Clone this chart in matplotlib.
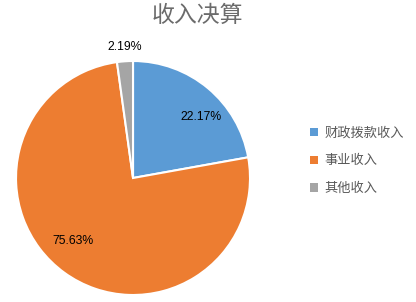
import matplotlib
matplotlib.use("Agg")
import matplotlib.pyplot as plt
from matplotlib.patches import Patch

plt.rcParams['font.family'] = ['Noto Sans CJK SC', 'DejaVu Sans']

categories = ['财政拨款收入', '事业收入', '其他收入']
values = [22.17, 75.63, 2.19]
labels = ['22.17%', '75.63%', '2.19%']
colors = ['#5B9BD5', '#ED7D31', '#A5A5A5']
title = '收入决算'

fig = plt.figure(figsize=(4.16, 3.02), dpi=100)
ax = fig.add_axes([0.0385, 0.0232, 0.5625, 0.7748])
wedges, _ = ax.pie(values, colors=colors, startangle=90, counterclock=False,
                   radius=1.0, wedgeprops=dict(edgecolor='white', linewidth=1.5))
ax.set_xlim(-1, 1)
ax.set_ylim(-1, 1)
ax.set_aspect('equal')
ax.axis('off')

label_pos = [(0.58, 0.52), (-0.51, -0.54), (-0.07, 1.12)]
for (x, y), t in zip(label_pos, labels):
    ax.text(x, y, t, ha='center', va='center', fontsize=8.8, color='#000000',
            family=['Liberation Sans', 'DejaVu Sans'], clip_on=False)

fig.text(0.475, 0.948, title, ha='center', va='center', fontsize=16.5,
         color='#6b6b6b', fontweight='light')

handles = [Patch(facecolor=c, edgecolor='none') for c in colors]
fig.legend(handles, categories, loc='center left', bbox_to_anchor=(0.716, 0.467),
           frameon=False, fontsize=9.5, labelcolor='#595959', handlelength=0.6,
           handleheight=0.6, handletextpad=0.5, labelspacing=1.12)

fig.savefig('out.png', dpi=100)
